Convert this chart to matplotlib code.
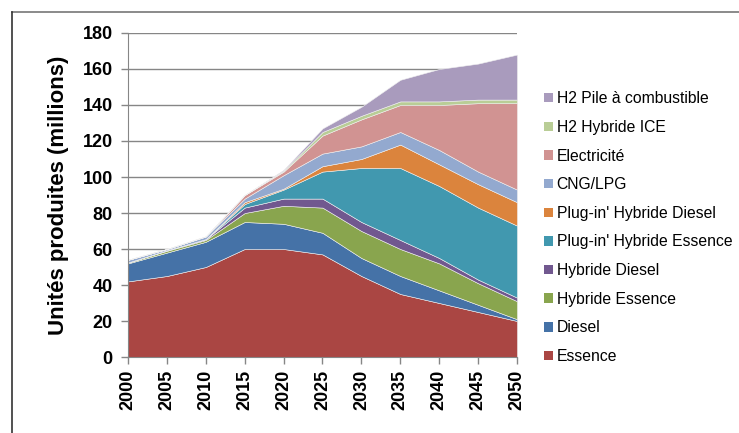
import matplotlib.pyplot as plt
from matplotlib.lines import Line2D
from matplotlib.patches import Patch

plt.rcParams['font.family'] = ['Liberation Sans', 'DejaVu Sans']

years = [2000, 2005, 2010, 2015, 2020, 2025, 2030, 2035, 2040, 2045, 2050]

# millions d'unites par technologie (empile de bas en haut)
essence        = [42, 45, 50, 60, 60, 57, 45, 35, 30, 25, 20]
diesel         = [10, 13, 14, 15, 14, 12, 10, 10, 7, 4, 1]
hybride_ess    = [0.5, 1, 1, 5, 10, 14, 15, 15, 15, 12, 10]
hybride_dsl    = [0, 0.3, 0.5, 3, 4, 5, 5, 5, 3, 2, 2]
plugin_ess     = [0, 0, 0, 2, 5, 15, 30, 40, 40, 40, 40]
plugin_dsl     = [0, 0, 0, 1, 0.5, 3, 5, 13, 12, 13, 13]
cng_lpg        = [1.5, 0.7, 1.5, 2, 7.5, 7, 7, 7, 8, 7, 7]
electricite    = [0, 0, 0, 2, 2, 10, 15, 15, 25, 38, 48]
h2_ice         = [0, 0, 0, 0, 0.5, 2, 2, 2, 2, 2, 2]
h2_pile        = [0, 0, 0, 0, 0.5, 2, 5, 12, 18, 20, 25]

labels = ['Essence', 'Diesel', 'Hybride Essence', 'Hybride Diesel',
          "Plug-in' Hybride Essence", "Plug-in' Hybride Diesel", 'CNG/LPG',
          'Electricité', 'H2 Hybride ICE', 'H2 Pile à combustible']
colors = ['#AA4643', '#4572A7', '#89A54E', '#71588F', '#4198AF',
          '#DB843D', '#93A9CF', '#D19392', '#B9CD96', '#A99BBD']

fig = plt.figure(figsize=(7.39, 4.33), dpi=100)
ax = fig.add_axes([0.1732, 0.1755, 0.5264, 0.7483])

ax.stackplot(years, essence, diesel, hybride_ess, hybride_dsl, plugin_ess,
             plugin_dsl, cng_lpg, electricite, h2_ice, h2_pile,
             colors=colors, labels=labels, linewidth=0.4, edgecolor='#f0f0f0')

ax.set_xlim(2000, 2050)
ax.set_ylim(0, 180)
ax.set_yticks(range(0, 181, 20))
ax.set_xticks(years)
ax.set_xticklabels([str(y) for y in years], rotation=90)
ax.tick_params(axis='both', labelsize=13, color='#868686', length=5, width=1)
ax.tick_params(axis='y', pad=6)
ax.tick_params(axis='x', pad=4)
for t in ax.get_xticklabels() + ax.get_yticklabels():
    t.set_fontweight('bold')
ax.yaxis.grid(True, color='#868686', linewidth=1)
ax.set_axisbelow(True)
for s in ['top', 'right']:
    ax.spines[s].set_visible(False)
for s in ['left', 'bottom']:
    ax.spines[s].set_color('#868686')

ax.set_ylabel('Unités produites (millions)', fontsize=16, fontweight='bold')
ax.yaxis.set_label_coords(-0.152, 0.5)

handles = [Patch(facecolor=c) for c in colors]
fig.legend(handles[::-1], labels[::-1], loc='upper left',
           bbox_to_anchor=(0.717, 0.822), frameon=False, fontsize=11.3,
           handlelength=0.55, handleheight=0.55, handletextpad=0.25,
           labelspacing=0.87)

# cadre du graphique
fig.add_artist(Line2D([12 / 739, 1], [1 - 12 / 433] * 2, color='#777777', lw=1.2))
fig.add_artist(Line2D([12 / 739] * 2, [0, 1 - 12 / 433], color='#333333', lw=1.2))

fig.savefig('out.png', dpi=100)
